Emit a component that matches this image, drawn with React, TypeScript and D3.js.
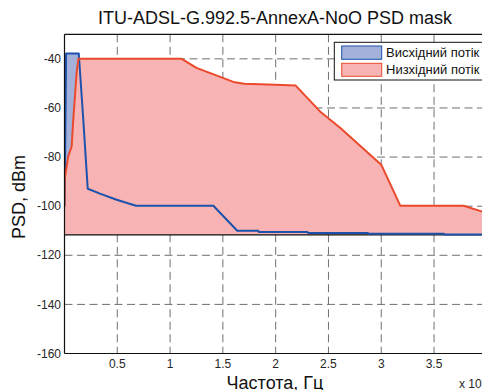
import React from "react";
import * as d3 from "d3";

// upstream (висхідний) PSD mask, freq in MHz (x 10^6 Hz), level in dBm
const upFreq = [0, 0.005, 0.015, 0.135, 0.178, 0.22, 0.336, 0.494, 0.677, 1.41, 1.636, 1.835, 1.84, 2.3, 2.31, 2.87, 2.88, 3.59, 3.6, 4.03];
const upPsd = [-100, -84, -37.8, -37.8, -64.8, -92.9, -94.9, -97.4, -99.8, -99.8, -110, -110, -110.5, -110.5, -110.9, -110.9, -111.2, -111.2, -111.5, -111.5];

// downstream (низхідний) PSD mask
const downFreq = [0, 0.002, 0.035, 0.068, 0.083, 0.115, 0.131, 1.11, 1.25, 1.6, 1.7, 2.0, 2.19, 2.42, 2.61, 2.86, 3.0, 3.18, 3.78, 3.95, 4.03];
const downPsd = [-100, -89, -79.7, -75.6, -64.8, -45.7, -40, -40, -43.7, -49.4, -50.1, -50.5, -50.9, -61.4, -68.1, -77.7, -83.1, -99.8, -99.8, -102.1, -103];

const baseValue = -111.7;

const xTicks = [0.5, 1, 1.5, 2, 2.5, 3, 3.5];
const xTickLabels = ["0.5", "1", "1.5", "2", "2.5", "3", "3.5"];
const yTicks = [-40, -60, -80, -100, -120, -140, -160];

const seriesNames = ["Висхідний потік", "Низхідний потік"];

const W = 482, H = 390;
const left = 64.5, right = 490, top = 34.3, bottom = 353.5;

const upFill = "#a3b0da", upLine = "#1c52ab";
const downFill = "#f8b3b4", downLine = "#ea4a2b";
const font = "Arial, 'Liberation Sans', sans-serif";

export default function App() {
  const x = d3.scaleLinear().domain([0, 4.03]).range([left, right]);
  const y = d3.scaleLinear().domain([-160, -30]).range([bottom, top]);

  const up = upFreq.map((f, i) => [f, upPsd[i]] as [number, number]);
  const down = downFreq.map((f, i) => [f, downPsd[i]] as [number, number]);

  const area = d3.area<[number, number]>()
    .x(d => x(d[0]))
    .y0(y(baseValue))
    .y1(d => y(d[1]));
  const line = d3.line<[number, number]>()
    .x(d => x(d[0]))
    .y(d => y(d[1]));

  const grid = { stroke: "#6f6f6f", strokeWidth: 1, strokeDasharray: "8,4.5" };

  return (
    <svg width={W} height={H} style={{ position: "fixed", left: 0, top: 0, background: "#fff" }}>
      <defs>
        <clipPath id="plot">
          <rect x={left} y={top} width={right - left} height={bottom - top} />
        </clipPath>
      </defs>
      <rect x={0} y={0} width={W} height={H} fill="#fff" />

      <g clipPath="url(#plot)">
        {xTicks.map(t => (
          <line key={"gx" + t} x1={x(t)} x2={x(t)} y1={top} y2={bottom} {...grid} />
        ))}
        {yTicks.map(t => (
          <line key={"gy" + t} x1={left} x2={right} y1={y(t)} y2={y(t)} {...grid} />
        ))}
        <path d={area(up) || ""} fill={upFill} />
        <path d={area(down) || ""} fill={downFill} />
        <line x1={left} x2={right} y1={y(baseValue)} y2={y(baseValue)} stroke="#111" strokeWidth={1.3} />
        <path d={line(up) || ""} fill="none" stroke={upLine} strokeWidth={2} strokeLinejoin="round" />
        <path d={line(down) || ""} fill="none" stroke={downLine} strokeWidth={2} strokeLinejoin="round" />
      </g>

      {/* axes box */}
      <line x1={left} x2={left} y1={top} y2={bottom} stroke="#111" strokeWidth={1.2} />
      <line x1={left} x2={right} y1={bottom} y2={bottom} stroke="#111" strokeWidth={1.2} />
      <line x1={left} x2={right} y1={top} y2={top} stroke="#111" strokeWidth={1.2} />

      {yTicks.map(t => (
        <text key={"yl" + t} x={left - 3.5} y={y(t)} dy="0.35em" textAnchor="end"
          fontFamily={font} fontSize={12} fill="#262626">{t}</text>
      ))}
      {xTicks.map((t, i) => (
        <text key={"xl" + t} x={x(t)} y={368} textAnchor="middle"
          fontFamily={font} fontSize={12} fill="#262626">{xTickLabels[i]}</text>
      ))}
      <text x={459} y={387.5} fontFamily={font} fontSize={12} fill="#262626">
        x 10<tspan dy={-6} fontSize={9}>6</tspan>
      </text>

      <text x={275} y={24} textAnchor="middle" fontFamily={font} fontSize={18} fill="#111">
        ITU-ADSL-G.992.5-AnnexA-NoO PSD mask
      </text>
      <text x={275} y={389} textAnchor="middle" fontFamily={font} fontSize={18} fill="#111">
        Частота, Гц
      </text>
      <text transform={`translate(25,197) rotate(-90)`} textAnchor="middle" fontFamily={font} fontSize={18} fill="#111">
        PSD, dBm
      </text>

      {/* legend */}
      <rect x={334.3} y={42.3} width={160} height={37.7} fill="#fff" stroke="#111" strokeWidth={1} />
      <rect x={341.7} y={46} width={40} height={13.3} fill={upFill} stroke={upLine} strokeWidth={1} />
      <rect x={341.7} y={63.3} width={40} height={13} fill={downFill} stroke={downLine} strokeWidth={1} />
      <text x={386} y={57} fontFamily={font} fontSize={13} fill="#111">{seriesNames[0]}</text>
      <text x={386} y={74} fontFamily={font} fontSize={13} fill="#111">{seriesNames[1]}</text>
    </svg>
  );
}
